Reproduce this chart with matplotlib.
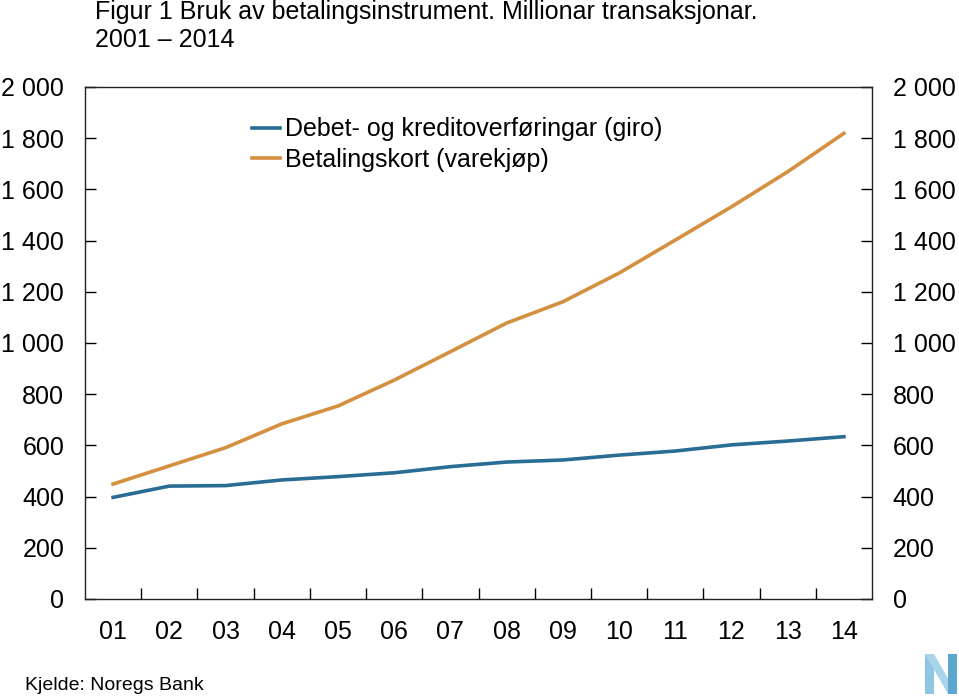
import matplotlib.pyplot as plt
from matplotlib.patches import Polygon

plt.rcParams['font.family'] = ['Liberation Sans', 'DejaVu Sans']

years = ['01', '02', '03', '04', '05', '06', '07', '08', '09', '10', '11', '12', '13', '14']
giro = [397, 441, 443, 465, 478, 493, 517, 535, 543, 562, 578, 602, 617, 634]
kort = [449, 520, 591, 684, 754, 855, 966, 1078, 1161, 1273, 1402, 1532, 1669, 1819]
yticks = [0, 200, 400, 600, 800, 1000, 1200, 1400, 1600, 1800, 2000]

blue = '#2a6d94'
orange = '#d48f3f'

fig = plt.figure(figsize=(9.59, 6.98), dpi=100)
ax = fig.add_axes([85 / 959, 1 - 599 / 698, 787 / 959, 512 / 698])

x = list(range(len(years)))
ax.plot(x, giro, color=blue, lw=2.6, label='Debet- og kreditoverføringar (giro)')
ax.plot(x, kort, color=orange, lw=2.6, label='Betalingskort (varekjøp)')

ax.set_xlim(-0.5, len(years) - 0.5)
ax.set_ylim(0, 2000)

# y ticks on both sides, pointing in
ylabels = [f'{v:,}'.replace(',', ' ') for v in yticks]
ax.set_yticks(yticks)
ax.set_yticklabels(ylabels)
ax.tick_params(axis='y', direction='in', length=8, width=1, labelsize=18,
               left=True, right=True, labelleft=True, labelright=True, pad=15)

# x: labels at points, ticks between categories
ax.set_xticks(x)
ax.set_xticklabels(years)
ax.set_xticks([i + 0.5 for i in range(len(years) - 1)], minor=True)
ax.tick_params(axis='x', which='major', length=0, labelsize=18, pad=15)
ax.tick_params(axis='x', which='minor', direction='in', length=8, width=1)

for s in ax.spines.values():
    s.set_linewidth(1)
    s.set_color('#222222')

ax.legend(loc='upper left', bbox_to_anchor=(0.2, 0.96), frameon=False,
          fontsize=18, handlelength=1.12, handletextpad=0.2, labelspacing=0.25,
          borderaxespad=0)

fig.text(95 / 959, 1 - 12 / 698, 'Figur 1 Bruk av betalingsinstrument. Millionar transaksjonar.',
         fontsize=18, va='center', ha='left')
fig.text(95 / 959, 1 - 40 / 698, '2001 – 2014', fontsize=18, va='center', ha='left')
fig.text(25 / 959, 1 - 685 / 698, 'Kjelde: Noregs Bank', fontsize=14, va='center', ha='left')

# simple Norges Bank "N" mark in the corner
def px(xp, yp):
    return (xp / 959, 1 - yp / 698)

left_bar = [px(925, 654), px(934, 654), px(934, 694), px(925, 694)]
diag = [px(925, 654), px(934, 654), px(957, 694), px(948, 694)]
right_bar = [px(948, 654), px(957, 654), px(957, 694), px(948, 694)]
for pts, c in [(left_bar, '#8ec6e3'), (diag, '#a9d4ea'), (right_bar, '#5fa6cf')]:
    fig.patches.append(Polygon(pts, closed=True, transform=fig.transFigure,
                               facecolor=c, edgecolor='none'))

fig.savefig('out.png', dpi=100)
